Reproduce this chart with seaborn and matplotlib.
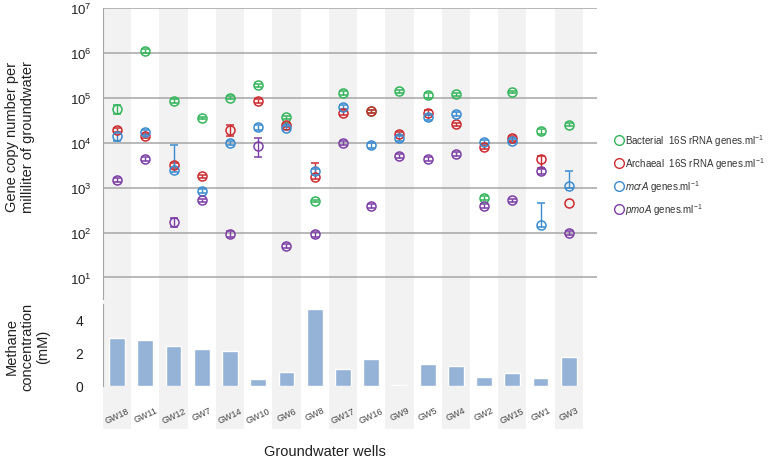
import numpy as np
import pandas as pd
import matplotlib
matplotlib.use("Agg")
import matplotlib.pyplot as plt
from matplotlib.lines import Line2D
import seaborn as sns

# === data
wells = ["GW18", "GW11", "GW12", "GW7", "GW14", "GW10", "GW6", "GW8", "GW17",
         "GW16", "GW9", "GW5", "GW4", "GW2", "GW15", "GW1", "GW3"]

bacterial = [5.6e4, 1.1e6, 8.5e4, 3.6e4, 1.0e5, 1.9e5, 3.7e4, 5.0e2, 1.3e5,
             5.0e4, 1.4e5, 1.15e5, 1.2e5, 5.9e2, 1.35e5, 1.8e4, 2.5e4]
archaeal = [1.9e4, 1.4e4, 3.2e3, 1.8e3, 1.9e4, 8.5e4, 2.5e4, 1.7e3, 4.6e4,
            5.0e4, 1.6e4, 4.6e4, 2.6e4, 8.0e3, 1.26e4, 4.3e3, 4.6e2]
mcra = [1.4e4, 1.7e4, 2.5e3, 8.3e2, 9.8e3, 2.2e4, 2.1e4, 2.3e3, 6.3e4,
        8.7e3, 1.25e4, 3.7e4, 4.4e4, 1.05e4, 1.1e4, 1.48e2, 1.1e3]
pmoa = [1.5e3, 4.4e3, 1.7e2, 5.2e2, 93, 8.5e3, 50, 93, 1.0e4,
        3.9e2, 5.0e3, 4.4e3, 5.6e3, 3.9e2, 5.2e2, 2.3e3, 98]

bact_lo = [1.2e4, 1e5, 1e4, 2e3, 8e3, 1.5e4, 3e3, 30, 1.5e4, 4e3, 1e4, 1.5e4, 8e3, 60, 1e4, 2.5e3, 2e3]
bact_hi = [1.2e4, 1e5, 1e4, 2e3, 8e3, 1.5e4, 3e3, 30, 1.5e4, 4e3, 1e4, 1.5e4, 8e3, 60, 1e4, 2.5e3, 2e3]
arch_lo = [2e3, 1.5e3, 4e2, 1.5e2, 5e3, 8e3, 3e3, 1.5e2, 4e3, 4e3, 1.5e3, 5e3, 2e3, 8e2, 1.5e3, 1.5e3, np.nan]
arch_hi = [2e3, 1.5e3, 4e2, 1.5e2, 6e3, 8e3, 3e3, 1.8e3, 4e3, 4e3, 1.5e3, 8e3, 2e3, 8e2, 1.5e3, 8e2, np.nan]
mcra_lo = [3e3, 2e3, 3e2, 80, 1e3, 3e3, 2e3, 3e2, 6e3, 1e3, 1.5e3, 5e3, 5e3, 1e3, 1e3, 15, 1e2]
mcra_hi = [2e3, 2e3, 6.5e3, 80, 1e3, 3e3, 2e3, 3e2, 6e3, 1e3, 1.5e3, 5e3, 5e3, 1e3, 1e3, 3.1e2, 1.2e3]
pmoa_lo = [1.5e2, 5e2, 40, 50, 15, 3.7e3, 5, 12, 1e3, 40, 5e2, 5e2, 5e2, 40, 50, 3e2, 10]
pmoa_hi = [1.5e2, 5e2, 40, 50, 15, 4.1e3, 5, 12, 1e3, 40, 5e2, 5e2, 5e2, 40, 50, 3e2, 10]

methane = [2.86, 2.76, 2.38, 2.24, 2.12, 0.44, 0.87, 4.64, 1.0,
           1.6, 0.08, 1.34, 1.22, 0.52, 0.76, 0.46, 1.74]

series = [
    ("Bacterial  16S rRNA genes.ml$^{-1}$", bacterial, bact_lo, bact_hi, "#33b55a"),
    ("Archaeal  16S rRNA genes.ml$^{-1}$", archaeal, arch_lo, arch_hi, "#cc2b2f"),
    ("$\\it{mcrA}$ genes.ml$^{-1}$", mcra, mcra_lo, mcra_hi, "#3a8bd0"),
    ("$\\it{pmoA}$ genes.ml$^{-1}$", pmoa, pmoa_lo, pmoa_hi, "#7d3ea6"),
]

# === style
sns.set_style("white")
plt.rcParams["font.family"] = ["Liberation Sans", "DejaVu Sans"]
plt.rcParams["mathtext.fontset"] = "custom"
plt.rcParams["mathtext.rm"] = "Liberation Sans"
plt.rcParams["mathtext.it"] = "Liberation Sans:italic"

fig = plt.figure(figsize=(7.73, 4.6), dpi=100)
W, H = 773, 460
left, right = 103 / W, 597 / W
xlim = (-0.5, 17.0)
x = np.arange(len(wells))

# background bands
bg = fig.add_axes([left, 1 - 430 / H, right - left, (430 - 9) / H])
bg.set_xlim(xlim)
for i in range(0, len(wells), 2):
    bg.axvspan(i - 0.5, i + 0.5, color="#f2f2f2", lw=0)
bg.axis("off")

# === top panel: gene copies
ax = fig.add_axes([left, 1 - 300 / H, right - left, (300 - 9) / H])
ax.patch.set_alpha(0)
ax.set_yscale("log")
ax.set_ylim(10 ** 0.52, 1e7)
ax.set_xlim(xlim)
for label, vals, lo, hi, col in series:
    ax.errorbar(x, vals, yerr=[lo, hi], fmt="o", mfc="none", mec=col, ecolor=col,
                ms=6.5, mew=1.1, elinewidth=1.0, capsize=2.6, capthick=1.0, zorder=3)
ax.set_yticks([10 ** k for k in range(1, 8)])
ax.minorticks_off()
ax.yaxis.grid(True, color="#a6a6a6", lw=1.1)
ax.set_xticks([])
for s in ["top", "right", "bottom"]:
    ax.spines[s].set_visible(False)
ax.spines["left"].set_color("#a6a6a6")
ax.tick_params(axis="y", length=4, color="#a6a6a6", labelsize=9.5, labelcolor="#222222", pad=4)

handles = [Line2D([], [], ls="none", marker="o", mfc="none", mec=c, ms=7, mew=1.0)
           for _, _, _, _, c in series]
fig.legend(handles, [s[0] for s in series], loc="upper left",
           bbox_to_anchor=(604 / W, 1 - 124 / H), frameon=False, fontsize=7,
           handletextpad=0.1, labelspacing=0.75, handlelength=1.2, labelcolor="#333333")

# === bottom panel: methane
df = pd.DataFrame({"well": wells, "methane": methane})
bx = fig.add_axes([left, 1 - 387 / H, right - left, (387 - 305) / H])
bx.patch.set_alpha(0)
sns.barplot(data=df, x="well", y="methane", order=wells, color="#95b3d7",
            saturation=1, width=0.56, ax=bx)
bx.set_xlim(xlim)
bx.set_ylim(0, 4.92)
bx.set_yticks([0, 2, 4])
bx.set_xlabel("")
bx.set_ylabel("")
for s in ["top", "right", "bottom"]:
    bx.spines[s].set_visible(False)
bx.spines["left"].set_color("#a6a6a6")
bx.tick_params(axis="y", length=4, color="#a6a6a6", labelsize=10, labelcolor="#222222", pad=10)
bx.tick_params(axis="x", length=0, labelsize=6.5, labelcolor="#444444", pad=14, rotation=25)

fig.text(20 / W, 1 - 137 / H, "Gene copy number per\nmilliliter of groundwater",
         rotation=90, ha="center", va="center", fontsize=10.5, color="#222222")
fig.text(27 / W, 1 - 347 / H, "Methane\nconcentration\n(mM)",
         rotation=90, ha="center", va="center", fontsize=10.5, color="#222222",
         linespacing=1.15)
fig.text(325 / W, 1 - 452 / H, "Groundwater wells", ha="center", va="center",
         fontsize=10.5, color="#222222")

plt.savefig("out.png", dpi=100)
